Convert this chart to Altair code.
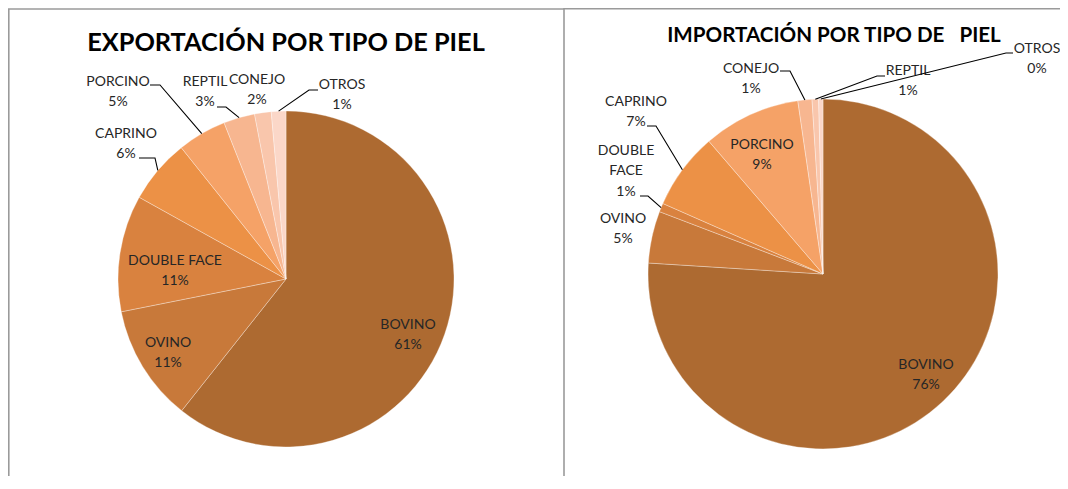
import math
import altair as alt
import pandas as pd

# ---------------- data ----------------
categories_exp = ["BOVINO", "OVINO", "DOUBLE FACE", "CAPRINO", "PORCINO", "REPTIL", "CONEJO", "OTROS"]
values_exp = [60.6, 11.2, 11.2, 6.2, 4.7, 3.0, 1.6, 1.4]

categories_imp = ["BOVINO", "OVINO", "DOUBLE FACE", "CAPRINO", "PORCINO", "CONEJO", "REPTIL", "OTROS"]
values_imp = [76.0, 4.8, 0.8, 7.1, 9.0, 1.3, 0.6, 0.4]

title_exp = "EXPORTACIÓN POR TIPO DE PIEL"
title_imp = "IMPORTACIÓN POR TIPO DE\u00a0\u00a0 PIEL"

# ---------------- styles / layout ----------------
palette = ["#AD6A31", "#C8793A", "#D9823F", "#EC9146", "#F5A267", "#F7B690", "#F9C6AC", "#FBD7C8"]
FONT = "Lato"
LABEL_COLOR = "#262626"
LH = 20.5        # label line height
M = 8            # page margin
W, H = 1052, 468

xs = alt.Scale(domain=[M, M + W], nice=False, zero=False)
ys = alt.Scale(domain=[M, M + H], nice=False, zero=False, reverse=True)

pies = [
    dict(cats=categories_exp, vals=values_exp, title=title_exp, cx=286, cy=279, r=168,
         tx=286, ty=43, tsize=25.3,
         names={"DOUBLE FACE": "DOUBLE FACE"},
         labels={"BOVINO": (408, 335), "OVINO": (168, 353), "DOUBLE FACE": (175, 271),
                 "CAPRINO": (126, 144), "PORCINO": (118, 92), "REPTIL": (205, 92),
                 "CONEJO": (257, 90), "OTROS": (342, 95)},
         leaders={"PORCINO": (150, 160, 85), "REPTIL": (217, 226, 107),
                  "CAPRINO": (139, 155, 158), "OTROS": (318, 309, 90)}),
    dict(cats=categories_imp, vals=values_imp, title=title_imp, cx=823, cy=274, r=175,
         tx=834, ty=36, tsize=20.6,
         names={"DOUBLE FACE": "DOUBLE\nFACE"},
         labels={"BOVINO": (926, 375), "OVINO": (623, 229), "DOUBLE FACE": (626, 171),
                 "CAPRINO": (636, 112), "PORCINO": (762, 155), "CONEJO": (751, 79),
                 "REPTIL": (908, 81), "OTROS": (1037, 59)},
         leaders={"CAPRINO": (647, 656, 126), "DOUBLE FACE": (640, 648, 196),
                  "CONEJO": (780, 790, 71), "REPTIL": (885, 877, 76),
                  "OTROS": (1013, 1006, 53)}),
]

layers = []
for p in pies:
    cats, vals = p["cats"], p["vals"]
    total = sum(vals)
    df = pd.DataFrame({"tipo": cats, "valor": vals, "idx": list(range(len(cats)))})

    arc = alt.Chart(df).mark_arc(
        outerRadius=p["r"], stroke="#ffffff", strokeWidth=0.6, strokeOpacity=0.55
    ).encode(
        theta=alt.Theta("valor:Q", stack=True),
        color=alt.Color("tipo:N", scale=alt.Scale(domain=cats, range=palette), legend=None),
        order=alt.Order("idx:Q"),
        x=alt.value(p["cx"] - M),
        y=alt.value(p["cy"] - M),
    )
    layers.append(arc)

    # labels (block centre given; first line placed so the block is centred)
    rows = []
    for c, v in zip(cats, vals):
        pct = round(v / total * 100)
        name = p["names"].get(c, c)
        txt = f"{name}\n{pct}%"
        n = txt.count("\n") + 1
        lx, ly = p["labels"][c]
        rows.append({"px": lx, "py": ly - (n - 1) * LH / 2, "txt": txt})
    lab = pd.DataFrame(rows)
    layers.append(
        alt.Chart(lab).mark_text(
            font=FONT, fontSize=14, lineBreak="\n", lineHeight=LH,
            color=LABEL_COLOR, align="center", baseline="middle"
        ).encode(
            x=alt.X("px:Q", scale=xs, axis=None),
            y=alt.Y("py:Q", scale=ys, axis=None),
            text="txt:N",
        )
    )

    # leader lines: label stub -> elbow -> slice edge at mid angle
    lrows = []
    cum = 0.0
    mids = {}
    for c, v in zip(cats, vals):
        mids[c] = (cum + v / 2) / total * 2 * math.pi
        cum += v
    for c, (x0, x1, yy) in p["leaders"].items():
        a = mids[c]
        sx = p["cx"] + p["r"] * math.sin(a)
        sy = p["cy"] - p["r"] * math.cos(a)
        for k, (qx, qy) in enumerate([(x0, yy), (x1, yy), (sx, sy)]):
            lrows.append({"id": c, "k": k, "px": qx, "py": qy})
    ldf = pd.DataFrame(lrows)
    layers.append(
        alt.Chart(ldf).mark_line(color="#000000", strokeWidth=1.1).encode(
            x=alt.X("px:Q", scale=xs, axis=None),
            y=alt.Y("py:Q", scale=ys, axis=None),
            detail="id:N",
            order="k:Q",
        )
    )

    # title
    layers.append(
        alt.Chart(pd.DataFrame({"t": [p["title"]]})).mark_text(
            font=FONT, fontSize=p["tsize"], fontWeight="bold", color="#000000",
            align="center", baseline="middle"
        ).encode(x=alt.value(p["tx"] - M), y=alt.value(p["ty"] - M), text="t:N")
    )

# panel borders (decoration)
bd = pd.DataFrame({"a": [0]})
bstyle = dict(color="#9a9a9a", strokeWidth=1.6)
layers += [
    alt.Chart(bd).mark_rule(**bstyle).encode(x=alt.value(0.8), y=alt.value(1), y2=alt.value(H)),
    alt.Chart(bd).mark_rule(**bstyle).encode(x=alt.value(0), x2=alt.value(556), y=alt.value(1)),
    alt.Chart(bd).mark_rule(**bstyle).encode(x=alt.value(556), y=alt.value(0), y2=alt.value(H)),
    alt.Chart(bd).mark_rule(**bstyle).encode(x=alt.value(556), x2=alt.value(W), y=alt.value(0.8)),
]

chart = (
    alt.layer(*layers)
    .resolve_scale(theta="independent", color="independent")
    .properties(width=W, height=H, padding=0, autosize=alt.AutoSizeParams(type="none"))
    .configure_view(stroke=None)
)

chart.save("out.html", embed_options={"renderer": "svg", "actions": False})
